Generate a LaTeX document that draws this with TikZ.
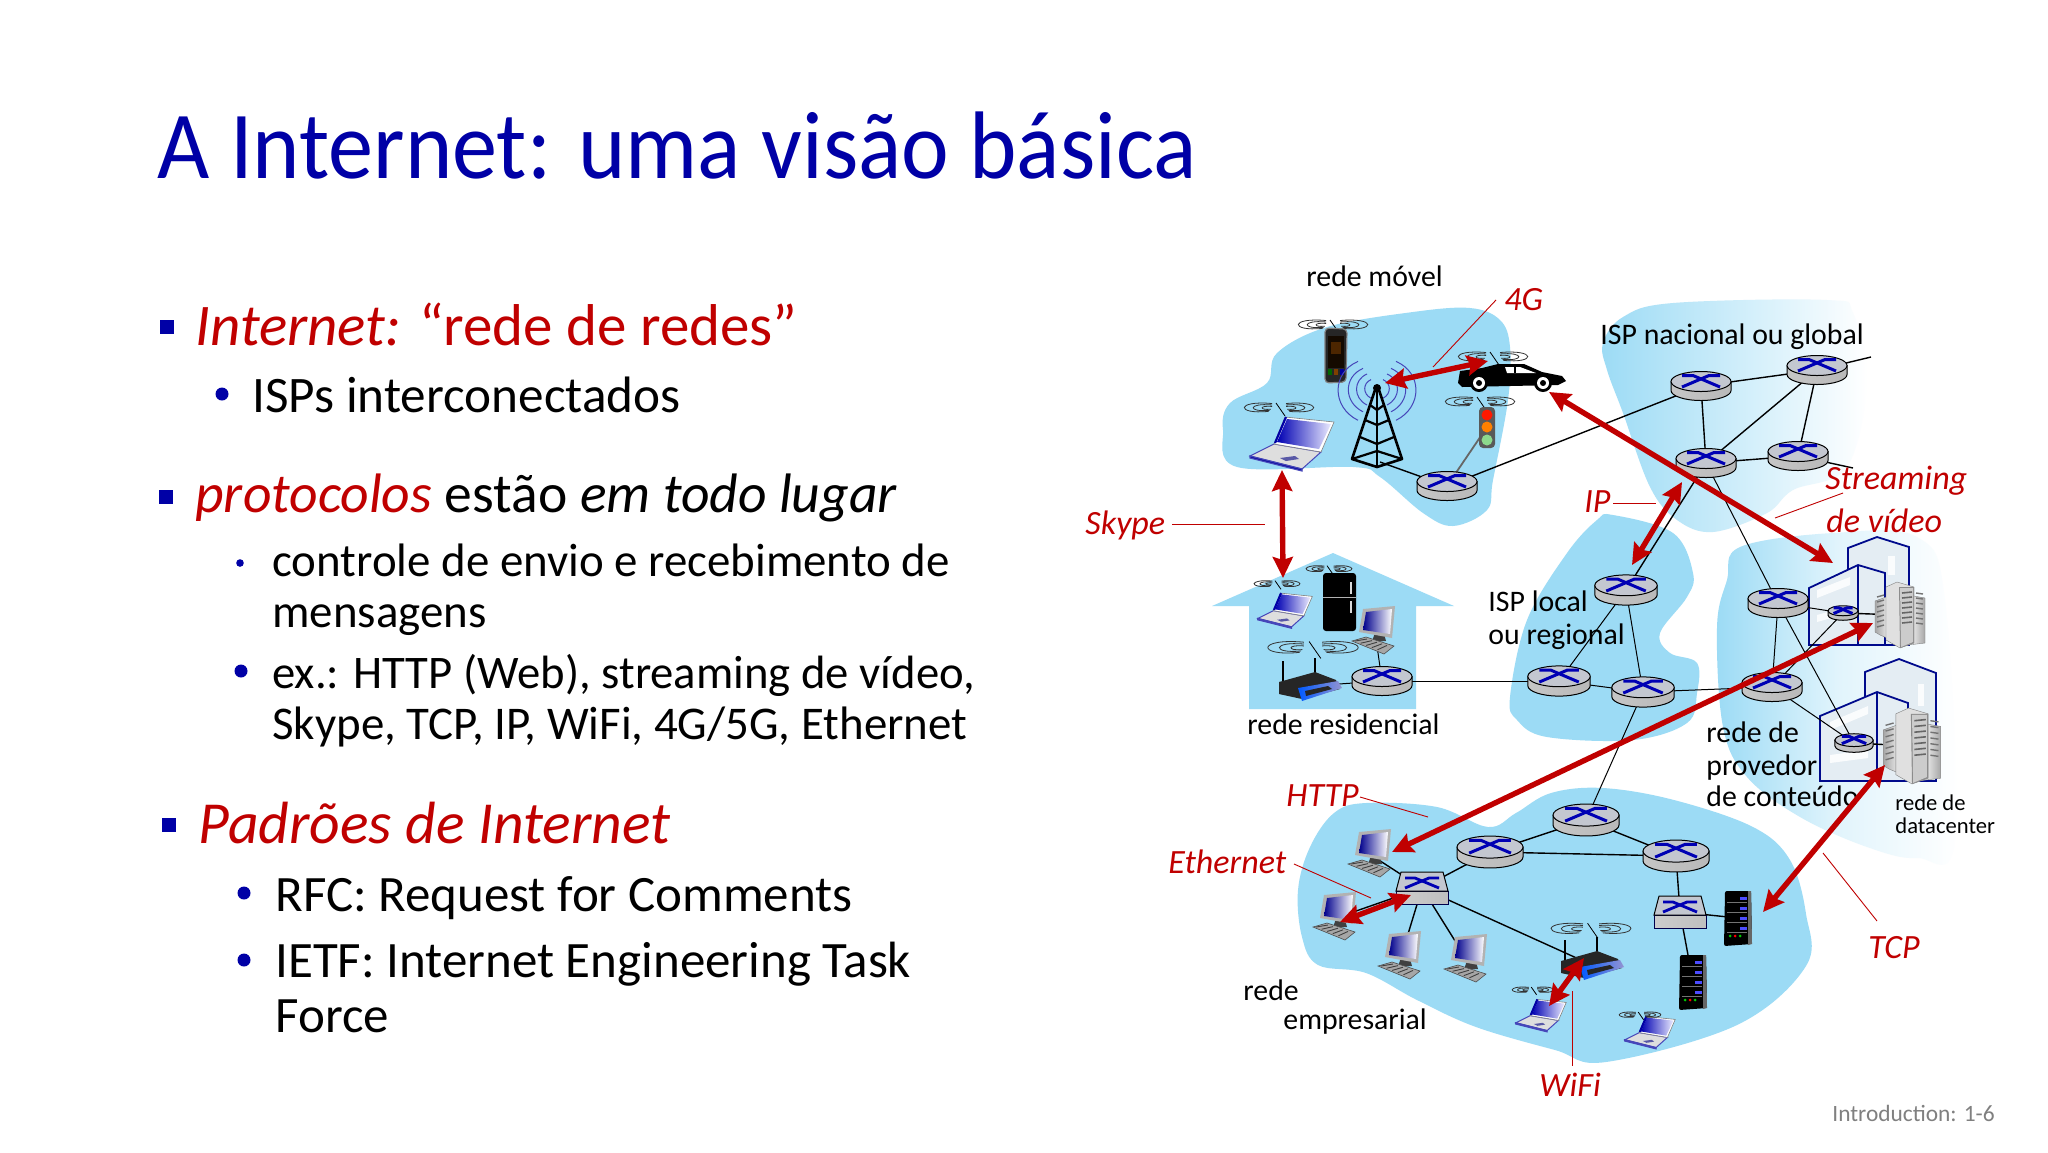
\documentclass[tikz,border=0pt]{standalone}
\usepackage{fontspec}
\usepackage{graphicx}
\setmainfont{Carlito}
\usetikzlibrary{arrows.meta}
\definecolor{blobblue}{HTML}{9CDBF5}
\definecolor{titleblue}{HTML}{0000A6}
\definecolor{redtxt}{HTML}{C00000}
\definecolor{xblue}{HTML}{0000B4}
\definecolor{dcblue}{HTML}{000A8C}
\definecolor{dcfill}{HTML}{E4EDF3}
\definecolor{routertop}{HTML}{C3C7D0}
\newcommand{\fs}[1]{\fontsize{#1}{#1}\selectfont}
\tikzset{
 x=0.5pt,y=-0.5pt,
 link/.style={draw=black,line width=.7pt},
 thinlink/.style={draw=black,line width=.5pt},
 redthin/.style={draw=redtxt,line width=.45pt},
 redarrow/.style={draw=redtxt,line width=2.7pt,{Stealth[length=10.5pt,width=10pt,inset=1.5pt]}-{Stealth[length=10.5pt,width=10pt,inset=1.5pt]}},
 lab/.style={anchor=base west,inner sep=0pt,font=\fs{14.9}},
 rlab/.style={anchor=base west,inner sep=0pt,font=\fs{17}\itshape,text=redtxt},
 bodytxt/.style={anchor=base west,inner sep=0pt},
 pics/router/.style={code={
  \path[draw=black,line width=.5pt,left color=gray!45,middle color=white,right color=gray!55]
   (-30,-4.5) -- (-30,4.5) .. controls (-30,10) and (-16.5,14.5) .. (0,14.5) .. controls (16.5,14.5) and (30,10) .. (30,4.5) -- (30,-4.5) -- cycle;
  \path[draw=black,line width=.5pt,fill=routertop]
   (-30,-4.5) .. controls (-30,-10) and (-16.5,-14.5) .. (0,-14.5) .. controls (16.5,-14.5) and (30,-10) .. (30,-4.5) .. controls (30,1) and (16.5,5.5) .. (0,5.5) .. controls (-16.5,5.5) and (-30,1) .. (-30,-4.5) -- cycle;
  \draw[xblue,line width=1.5pt] (-19,-10.5) -- (-8,-10.5) -- (19,1);
  \draw[xblue,line width=1.5pt] (19,-10.5) -- (8,-10.5) -- (-19,1);
 }},
 pics/switchbox/.style={code={
  \path[draw=black!70!blue,line width=.4pt,left color=gray!40,middle color=white,right color=gray!50] (-26,3) -- (26,3) -- (26,16) -- (-26,16) -- cycle;
  \path[draw=black,line width=.5pt,fill=routertop] (-21,-16) -- (21,-16) -- (26,3) -- (-26,3) -- cycle;
  \draw[xblue,line width=1.4pt] (-17,-10) -- (-7,-10) -- (17,0);
  \draw[xblue,line width=1.4pt] (17,-10) -- (7,-10) -- (-17,0);
 }},
 pics/wifi/.style={code={
  \foreach \r in {10,19,28}{
   \draw[black!80,line width=.4pt] ({-7},{-0.16*\r}) .. controls ({-7-1.3*\r},{-0.28*\r}) and ({-7-1.3*\r},{0.24*\r}) .. ({-7-0.12*\r},{0.12*\r});
   \draw[black!80,line width=.4pt] ({7},{-0.16*\r}) .. controls ({7+1.3*\r},{-0.28*\r}) and ({7+1.3*\r},{0.24*\r}) .. ({7+0.12*\r},{0.12*\r});
  }
  \draw[black,line width=.4pt] (-3,-5) -- (6,8);
 }},
 pics/laptop/.style={code={
  \path[draw=blue!45!gray,line width=.5pt,fill=black!13] (-18,1) -- (29,9) -- (10,26) -- (-42,13) -- cycle;
  \path[draw=blue!45!gray,line width=.6pt,fill=blue!60!black] (-42,13) -- (10,26) -- (10,28) -- (-42,15) -- cycle;
  \path[draw=gray,line width=.3pt,fill=white] (-18,1) -- (-7,-26) -- (42,-21) -- (29,9) -- cycle;
  \path[left color=blue!70!black,right color=blue!8] (-15,-1) -- (-5,-24) -- (39,-19) -- (27,6) -- cycle;
  \draw[blue!65!black,line width=1.1pt] (-17,0) -- (-6,-26);
  \fill[blue!30!gray] (-12,15) -- (3,13) -- (7,16) -- (-6,18) -- cycle;
 }},
 pics/desktop/.style={code={
  \fill[black!75] (0,0) -- (8,-2) -- (11,9) -- (-3,10) -- cycle;
  \path[fill=black!30] (-12,-23) -- (20,-26) -- (17,6) -- (-16,0) -- cycle;
  \path[left color=blue!55!black,right color=white] (-9,-20) -- (17,-23) -- (15,2) -- (-12,-2) -- cycle;
  \path[draw=black!70,line width=.3pt,fill=black!35] (-23,9) -- (-9,5) -- (19,14) -- (9,22) -- cycle;
  \foreach \k in {0,.2,.4,.6,.8}{\draw[black!75,line width=.45pt] ({-20+\k*28},{9+\k*11}) -- ({-8+\k*25},{7+\k*8});}
 }},
 pics/serverrack/.style={code={
  \path[fill=black,rounded corners=1pt] (-13,-27) -- (13,-27) -- (14,26) -- (-14,28) -- cycle;
  \fill[black!60] (10,-27) -- (13,-27) -- (14,26) -- (10,27) -- cycle;
  \foreach \yy in {-20,-10,0,10}{
   \fill[black!55] (-11,{\yy+4}) rectangle (9,{\yy+5});
   \fill[blue!70!white] (2,{\yy-1}) rectangle (9,{\yy+2});
  }
  \fill[green!80!black] (-8,18) circle[radius=1.5];
  \fill[red] (-3,18) circle[radius=1.5];
  \fill[green!80!black] (2,18) circle[radius=1.5];
 }},
 pics/servers/.style={code={
  \path[draw=gray,line width=.2pt,left color=white,right color=gray!70] (8,-20) -- (25,-17) -- (25,28) -- (8,30) -- cycle;
  \path[draw=gray,line width=.2pt,left color=gray!70,right color=white] (-25,-14) -- (-8,-20) -- (-8,25) -- (-20,20) -- (-25,17) -- cycle;
  \path[draw=gray,line width=.2pt,fill=black!12] (-14,-28) -- (-3,-33) -- (14,-28) -- (14,28) -- (0,33) -- (-14,25) -- cycle;
  \fill[black!45] (-1,-28) -- (14,-28) -- (14,28) -- (0,33) -- cycle;
  \fill[black!20] (0,-27) -- (13,-27) -- (13,27) -- (1,32) -- cycle;
  \foreach \yy in {-22,-17,-12,-7,-2,3,8}{
   \draw[black!60,line width=.8pt] (2,\yy) -- (12,{\yy-1});
   \draw[black!55,line width=.7pt] (-23,{\yy+4}) -- (-16,{\yy+2});
   \draw[black!55,line width=.7pt] (16,\yy) -- (23,{\yy+1});
  }
 }},
 pics/wifirouter/.style={code={
  \draw[black,line width=.7pt] (-27,0) -- (-27,-25);
  \draw[black,line width=.7pt] (5,-5) -- (5,-28);
  \path[fill=black!85] (-31,-4) -- (5,-14) -- (26,-6) -- (30,3) -- (-8,13) -- (-31,8) -- cycle;
  \path[left color=blue!65!cyan,right color=blue!40!gray!60] (-12,2) -- (28,-5) -- (32,2) -- (-8,15) -- cycle;
  \fill[black!85] (-5,5) -- (18,0) -- (22,3) -- (-4,10) -- cycle;
 }},
 winbar/.style={fill=white,opacity=.85},
 dcshape/.style={draw=dcblue,line width=.9pt,fill=dcfill},
 sqb/.style={fill=titleblue},
 rdb/.style={fill=titleblue},
}
\begin{document}
\begin{tikzpicture}
\useasboundingbox (0,0) rectangle (2048,1152);
\fill[white] (0,0) rectangle (2048,1152);

% ---- slide text
\node[bodytxt,font=\fs{48},text=titleblue] (title) at (157,178) {\scalebox{.94}[1]{A Internet: uma visão básica}};

\fill[sqb] (160,320) rectangle (174,334);
\fill[sqb] (159,490) rectangle (173,504);
\fill[sqb] (162,818) rectangle (176,832);
\fill[rdb] (222,394) circle[radius=6.5];
\fill[rdb] (240,563) circle[radius=3.8];
\fill[rdb] (241,671) circle[radius=6.5];
\fill[rdb] (244,893) circle[radius=6.5];
\fill[rdb] (244,960) circle[radius=6.5];

\node[bodytxt,font=\fs{29.5},text=redtxt] (t1) at (195,345) {\itshape Internet: \upshape “rede de redes”};
\node[bodytxt,font=\fs{25.6}] (t11) at (252,412) {ISPs interconectados};
\node[bodytxt,font=\fs{27.8}] (t2) at (195,512) {\textcolor{redtxt}{\itshape protocolos} estão {\itshape em todo lugar}};
\node[bodytxt,font=\fs{23.45}] (t21) at (272,576) {controle de envio e recebimento de};
\node[bodytxt,font=\fs{23.45}] (t22) at (272,627) {mensagens};
\node[bodytxt,font=\fs{23.35}] (t23) at (272,688) {ex.: HTTP (Web), streaming de vídeo,};
\node[bodytxt,font=\fs{23.45}] (t24) at (272,739) {Skype, TCP, IP, WiFi, 4G/5G, Ethernet};
\node[bodytxt,font=\fs{29.8}\itshape,text=redtxt] (t3) at (198,843) {Padrões de Internet};
\node[bodytxt,font=\fs{25.5}] (t31) at (275,911) {RFC: Request for Comments};
\node[bodytxt,font=\fs{25.5}] (t32) at (275,977) {IETF: Internet Engineering Task};
\node[bodytxt,font=\fs{25.5}] (t33) at (275,1032) {Force};
\node[bodytxt,font=\fs{11.7},text=black!50] (pg) at (1832,1121) {Introduction: 1-6};

% ---- clouds
\fill[blobblue] plot[smooth cycle,tension=.6] coordinates {(1223,430)(1230,403)(1267,383)(1277,353)(1327,327)(1413,312)(1470,308)(1500,320)(1510,347)(1508,400)(1493,480)(1487,510)(1453,526)(1423,513)(1380,477)(1353,467)(1237,467)};
\path[left color=blobblue,right color=white,middle color=blobblue!50] plot[smooth cycle,tension=.6] coordinates {(1603,343)(1623,317)(1673,303)(1827,300)(1853,313)(1867,380)(1847,467)(1793,490)(1767,513)(1713,532)(1677,520)(1650,487)(1623,413)(1607,370)};
\fill[blobblue] plot[smooth cycle,tension=.6] coordinates {(1613,515)(1673,533)(1693,573)(1687,597)(1660,633)(1670,653)(1697,663)(1697,693)(1687,723)(1633,740)(1547,737)(1517,720)(1510,697)(1527,620)(1567,553)(1597,520)};
\path[left color=blobblue,right color=white,middle color=blobblue!30] plot[smooth cycle,tension=.6] coordinates {(1727,580)(1740,547)(1833,533)(1917,537)(1945,600)(1955,840)(1917,858)(1867,847)(1800,817)(1747,777)(1723,727)(1717,627)};
\fill[blobblue] plot[smooth cycle,tension=.6] coordinates {(1298,890)(1310,847)(1334,813)(1366,803)(1437,807)(1488,827)(1516,813)(1551,793)(1603,788)(1674,800)(1753,827)(1790,860)(1806,914)(1806,966)(1737,1025)(1606,1062)(1555,1050)(1476,1027)(1417,1000)(1366,973)(1318,965)(1302,937)};
\fill[blobblue] (1333,553) -- (1454,606) -- (1416,606) -- (1416,709) -- (1249,709) -- (1249,606) -- (1212,606) -- cycle;

% ---- named positions
\coordinate (rmob) at (1447,486);
\coordinate (twr) at (1377,388);
\coordinate (twrb) at (1380,462);
\coordinate (lightc) at (1487,427);
\coordinate (isp1) at (1701,386);
\coordinate (isp2) at (1817,370);
\coordinate (isp3) at (1706,463);
\coordinate (isp4) at (1798,456);
\coordinate (ispA) at (1871,357);
\coordinate (ispB) at (1853,468);
\coordinate (loc1) at (1626,590);
\coordinate (loc2) at (1559,681);
\coordinate (loc3) at (1643,692);
\coordinate (home) at (1382,681);
\coordinate (homew) at (1310,686);
\coordinate (homed) at (1375,632);
\coordinate (cp1) at (1778,603);
\coordinate (cp2) at (1772,687);
\coordinate (dc1) at (1843,613);
\coordinate (dc2) at (1854,743);
\coordinate (srv1) at (1900,615);
\coordinate (srv2) at (1912,746);
\coordinate (ent1) at (1586,820);
\coordinate (ent2) at (1490,852);
\coordinate (ent3) at (1676,856);
\coordinate (sw1) at (1422,888);
\coordinate (sw2) at (1680,912);
\coordinate (d1) at (1371,855);
\coordinate (d2) at (1336,918);
\coordinate (d3) at (1401,957);
\coordinate (d4) at (1467,960);
\coordinate (wr) at (1592,965);
\coordinate (rack1) at (1738,918);
\coordinate (rack2) at (1693,982);

% ---- datacenter buildings
\path[dcshape] (1848,645) -- (1848,548) -- (1877,537) -- (1909,547) -- (1909,645) -- cycle;
\fill[winbar] (1888,556) rectangle (1895,575);
\path[dcshape] (1809,645) -- (1809,588) -- (1858,565) -- (1885,573) -- (1885,645) -- cycle;
\draw[dcblue,line width=.9pt] (1858,565) -- (1858,645);
\fill[winbar] (1817,590) -- (1850,577) -- (1850,585) -- (1817,598) -- cycle;
\fill[winbar] (1817,615) -- (1835,610) -- (1835,617) -- (1817,622) -- cycle;
\path[dcshape] (1865,781) -- (1865,672) -- (1899,659) -- (1936,673) -- (1936,781) -- cycle;
\fill[winbar] (1918,684) rectangle (1924,706);
\path[dcshape] (1820,781) -- (1820,716) -- (1877,692) -- (1908,703) -- (1908,781) -- cycle;
\draw[dcblue,line width=.9pt] (1877,692) -- (1877,781);
\fill[winbar] (1830,722) -- (1868,706) -- (1868,714) -- (1830,730) -- cycle;
\fill[winbar] (1830,755) -- (1868,750) -- (1868,758) -- (1830,763) -- cycle;

% ---- links
\draw[link] (rmob) -- (isp1);
\draw[link] (rmob) -- (twrb);
\draw[link] (isp1) -- (isp2);
\draw[link] (isp1) -- (isp3);
\draw[link] (isp2) -- (isp3);
\draw[link] (isp2) -- (isp4);
\draw[link] (isp3) -- (isp4);
\draw[link] (isp2) -- (ispA);
\draw[link] (isp4) -- (ispB);
\draw[link] (isp3) -- (loc1);
\draw[thinlink] (isp3) -- (cp1);
\draw[thinlink] (loc1) -- (loc2);
\draw[thinlink] (loc1) -- (loc3);
\draw[thinlink] (loc2) -- (loc3);
\draw[thinlink] (loc2) -- (home);
\draw[thinlink] (home) -- (homew);
\draw[thinlink] (home) -- (homed);
\draw[thinlink] (loc3) -- (cp2);
\draw[thinlink] (loc3) -- (ent1);
\draw[thinlink] (cp1) -- (cp2);
\draw[thinlink] (cp1) -- (dc1);
\draw[thinlink] (cp2) -- (dc1);
\draw[thinlink] (cp2) -- (dc2);
\draw[thinlink] (cp1) -- (dc2);
\draw[link] (dc1) -- (srv1);
\draw[link] (dc2) -- (srv2);
\draw[link] (ent1) -- (ent2);
\draw[link] (ent1) -- (ent3);
\draw[link] (ent2) -- (ent3);
\draw[link] (ent2) -- (sw1);
\draw[link] (ent3) -- (sw2);
\draw[link] (sw1) -- (d1);
\draw[link] (sw1) -- (d2);
\draw[link] (sw1) -- (d3);
\draw[link] (sw1) -- (d4);
\draw[link] (sw1) -- (wr);
\draw[link] (sw2) -- (rack1);
\draw[link] (sw2) -- (rack2);
\draw[draw=black!60,line width=.9pt] (lightc) -- (rmob);

% ---- routers and devices
\foreach \n in {rmob,isp1,isp2,isp3,isp4,home,cp1,cp2}{\pic at (\n) {router};}
\foreach \n in {loc1,loc2,loc3}{\pic[scale=1.04] at (\n) {router};}
\foreach \n in {ent1,ent2,ent3}{\pic[scale=1.1] at (\n) {router};}
\pic[scale=.5] at (dc1) {router};
\pic[scale=.64] at (dc2) {router};
\pic at (sw1) {switchbox};
\pic at (sw2) {switchbox};
\foreach \n in {d1,d2,d3,d4}{\pic at (\n) {desktop};}
\pic at (homed) {desktop};
\pic at (rack1) {serverrack};
\pic at (rack2) {serverrack};
\pic at (srv1) {servers};
\pic[scale=1.15] at (srv2) {servers};
\pic at (wr) {wifirouter};
\pic at (homew) {wifirouter};

\pic at (1292,443) {laptop};
\pic[scale=.65] at (1285,610) {laptop};
\pic[scale=.6] at (1541,1015) {laptop};
\pic[scale=.6] at (1650,1032) {laptop};
\pic at (1279,408) {wifi};
\pic at (1333,325) {wifi};
\pic at (1493,357) {wifi};
\pic at (1480,402) {wifi};
\pic[scale=.66] at (1277,584) {wifi};
\pic[scale=.66] at (1329,569) {wifi};
\pic[scale=1.3] at (1313,648) {wifi};
\pic[scale=1.15] at (1591,929) {wifi};
\pic[scale=.6] at (1533,990) {wifi};
\pic[scale=.6] at (1640,1015) {wifi};

% phone
\path[fill=black!85,draw=gray,line width=.6pt,rounded corners=2pt] (1325,328) -- (1347,329) -- (1346,382) -- (1325,383) -- cycle;
\fill[black!92!orange] (1328,336) rectangle (1344,368);
\fill[black!70!orange] (1331,342) rectangle (1341,354);
\fill[black!60!green] (1328,369) rectangle (1332,375);
\fill[black!50!orange] (1334,369) rectangle (1338,375);
\fill[black!40!blue] (1340,369) rectangle (1344,375);

% tower
\begin{scope}[shift={(twr)}]
 \foreach \r in {12,20,28,38}{
  \draw[blue!45!gray,line width=.5pt] ({.5*\r},{-.7*\r}) .. controls ({1.2*\r},{-.4*\r}) and ({1.2*\r},{.5*\r}) .. ({.5*\r},{.85*\r});
  \draw[blue!45!gray,line width=.5pt] ({-.5*\r},{-.7*\r}) .. controls ({-1.2*\r},{-.4*\r}) and ({-1.2*\r},{.5*\r}) .. ({-.5*\r},{.85*\r});
 }
 \draw[black,line width=1.3pt,line join=round] (-2,2) -- (-25,71) -- (0,79) -- (25,71) -- (2,2);
 \draw[black,line width=1.3pt] (0,2) -- (0,79);
 \draw[black,line width=1.1pt] (-25,71) -- (0,63) -- (25,71);
 \draw[black,line width=1.1pt] (-7,17) -- (0,22) -- (7,17);
 \draw[black,line width=1.1pt] (-12,32) -- (0,37) -- (12,32);
 \draw[black,line width=1.1pt] (-17,49) -- (0,56) -- (17,49);
 \fill[black] (0,0) circle[radius=4];
\end{scope}

% car
\begin{scope}[shift={(1512,377)}]
 \fill[black] (-54,6) -- (-52,-6) -- (-30,-9) -- (-14,-13) -- (12,-13) -- (30,-5) -- (50,-1) -- (54,4) -- (46,8) -- (-50,10) -- cycle;
 \fill[white] (-7,-10) -- (8,-10) -- (24,-4) -- (-5,-4) -- cycle;
 \fill[black] (2,-10) rectangle (4,-4);
 \foreach \wx in {-33,31}{
  \fill[black] (\wx,6) circle[radius=9];
  \fill[white] (\wx,6) circle[radius=6];
  \fill[black] (\wx,6) circle[radius=3];
 }
\end{scope}

% traffic light
\path[fill=black!65,rounded corners=2pt] (1479,407) rectangle (1495,448);
\fill[red!80!orange] (1487,415) circle[radius=5.5];
\fill[orange] (1487,427) circle[radius=5.5];
\fill[green!50!gray!60] (1487,440) circle[radius=5.5];

% fridge
\path[fill=black,rounded corners=1.5pt] (1323,573) rectangle (1356,631);
\draw[white!70!black,line width=.4pt] (1323,597) -- (1356,597);
\fill[white!85!black] (1350,582) rectangle (1352,594);
\fill[white!85!black] (1350,601) rectangle (1352,613);

% ---- labels
\node[lab] (lmob) at (1306,286) {rede móvel};
\node[lab] (lisp) at (1600,344) {ISP nacional ou global};
\node[lab] (lres) at (1247,734) {rede residencial};
\node[lab] (lloc1) at (1488,611) {ISP local};
\node[lab] (lloc2) at (1488,644) {ou regional};
\node[lab] (lcp1) at (1706,742) {rede de};
\node[lab] (lcp2) at (1706,775) {provedor};
\node[lab] (lcp3) at (1706,806) {de conteúdo};
\node[lab,font=\fs{11.3}] (ldc1) at (1895,810) {rede de};
\node[lab,font=\fs{11.3}] (ldc2) at (1895,833) {datacenter};
\node[lab] (lent1) at (1243,1000) {rede};
\node[lab] (lent2) at (1283,1029) {empresarial};
\node[rlab] (p4g) at (1504,310) {4G};
\node[rlab] (pip) at (1584,512) {IP};
\node[rlab] (psky) at (1085,534) {Skype};
\node[rlab] (pst1) at (1825,489) {Streaming};
\node[rlab] (pst2) at (1826,532) {de vídeo};
\node[rlab] (phttp) at (1286,806) {HTTP};
\node[rlab] (peth) at (1168,873) {Ethernet};
\node[rlab] (ptcp) at (1868,958) {TCP};
\node[rlab] (pwifi) at (1539,1096) {WiFi};

% ---- thin red leaders
\coordinate (l4a) at (1496,300); \coordinate (l4b) at (1433,367);
\coordinate (lsa) at (1172,524); \coordinate (lsb) at (1265,524);
\coordinate (lia) at (1613,503); \coordinate (lib) at (1656,503);
\coordinate (lva) at (1843,493); \coordinate (lvb) at (1775,518);
\coordinate (lha) at (1360,797); \coordinate (lhb) at (1428,817);
\coordinate (lea) at (1294,864); \coordinate (leb) at (1371,898);
\coordinate (lta) at (1823,853); \coordinate (ltb) at (1877,921);
\coordinate (lwa) at (1572,991); \coordinate (lwb) at (1572,1066);
\draw[redthin] (l4a) -- (l4b);
\draw[redthin] (lsa) -- (lsb);
\draw[redthin] (lia) -- (lib);
\draw[redthin] (lva) -- (lvb);
\draw[redthin] (lha) -- (lhb);
\draw[redthin] (lea) -- (leb);
\draw[redthin] (lta) -- (ltb);
\draw[redthin] (lwa) -- (lwb);

% ---- thick red arrows
\coordinate (aska) at (1282,470); \coordinate (askb) at (1283,578);
\coordinate (a4a) at (1385,383); \coordinate (a4b) at (1488,361);
\coordinate (ava) at (1549,392); \coordinate (avb) at (1833,563);
\coordinate (aia) at (1682,482); \coordinate (aib) at (1632,565);
\coordinate (aha) at (1392,852); \coordinate (ahb) at (1873,623);
\coordinate (ata) at (1885,765); \coordinate (atb) at (1763,912);
\coordinate (aea) at (1411,895); \coordinate (aeb) at (1340,922);
\coordinate (awa) at (1584,958); \coordinate (awb) at (1549,1006);
\draw[redarrow] (aska) -- (askb);
\draw[redarrow] (a4a) -- (a4b);
\draw[redarrow] (ava) -- (avb);
\draw[redarrow] (aia) -- (aib);
\draw[redarrow] (aha) -- (ahb);
\draw[redarrow] (ata) -- (atb);
\draw[redarrow] (aea) -- (aeb);
\draw[redarrow] (awa) -- (awb);
\end{tikzpicture}
\end{document}
